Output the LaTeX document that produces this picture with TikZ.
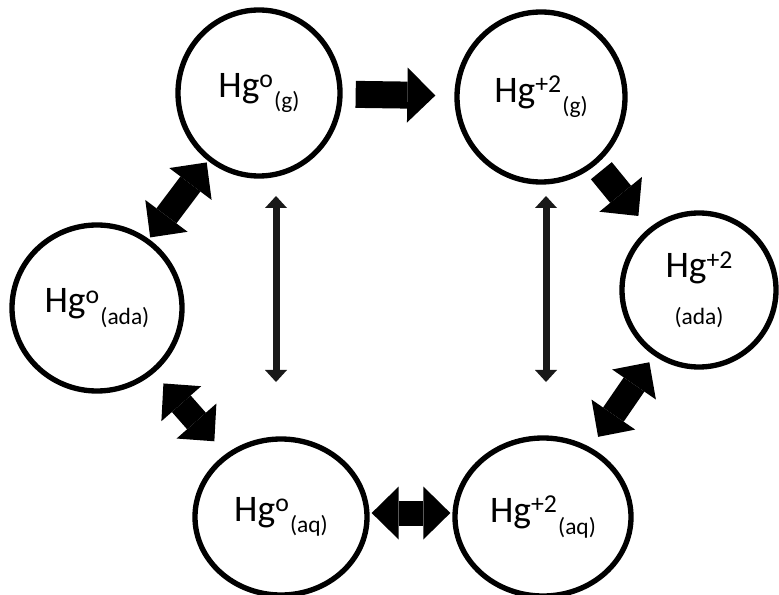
\documentclass[tikz,border=0pt]{standalone}
\usepackage{fontspec}
\setmainfont{Carlito}
\usetikzlibrary{arrows.meta,shapes.geometric}

\newcommand{\hgsup}[1]{\raisebox{8pt}{\fontsize{22}{22}\selectfont #1}}
\newcommand{\hgsub}[1]{\hspace{1pt}\raisebox{-10pt}{\fontsize{20}{20}\selectfont #1}}

\begin{document}
\begin{tikzpicture}[x=0.03cm, y=-0.03cm,
  species/.style={ellipse, draw, line width=0.16cm, inner sep=0pt, font=\fontsize{32}{36}\selectfont},
  bigarrow/.style={line width=0.81cm, -{Triangle[length={0.84cm 0 0}, width={1.65cm 0 0}, line width=0pt]}},
  bigdouble/.style={line width=0.75cm, {Triangle[length={0.81cm 0 0}, width={1.59cm 0 0}, line width=0pt]}-{Triangle[length={0.81cm 0 0}, width={1.59cm 0 0}, line width=0pt]}},
  thinarrow/.style={line width=0.21cm, draw=black!90, {Triangle[length={0.36cm 0 0}, width={0.66cm 0 0}, line width=0pt]}-{Triangle[length={0.36cm 0 0}, width={0.66cm 0 0}, line width=0pt]}}]
\useasboundingbox (0,0) rectangle (779,595);
% Gas phase
\node[species, minimum width=4.86cm, minimum height=4.98cm] (g0) at (259,93) {Hg\hgsup{o}\hgsub{(g)}};
\node[species, minimum width=5.04cm, minimum height=5.1cm] (g2) at (541,97) {Hg\hgsup{+2}\hgsub{(g)}};
% Adsorbed
\node[species, minimum width=5.1cm, minimum height=4.98cm] (ada0) at (97,308) {Hg\hgsup{o}\hgsub{(ada)}};
\node[species, minimum width=4.62cm, minimum height=4.62cm, align=center] (ada2) at (699,290) {Hg\hgsup{+2}\\[4pt]{\fontsize{20}{20}\selectfont (ada)}};
% Aqueous
\node[species, minimum width=5.16cm, minimum height=4.68cm] (aq0) at (281,517) {Hg\hgsup{o}\hgsub{(aq)}};
\node[species, minimum width=5.28cm, minimum height=4.74cm] (aq2) at (543,517) {Hg\hgsup{+2}\hgsub{(aq)}};
% Ends of the thin arrows
\coordinate (lefttop) at (276,196);
\coordinate (leftbot) at (276,382);
\coordinate (righttop) at (546,196);
\coordinate (rightbot) at (546,382);
% Block arrows
\draw[bigarrow, shorten <=0.39cm, shorten >=0.57cm] (g0) -- (g2);
\draw[bigarrow, shorten <=0.24cm, shorten >=0.48cm] (g2) -- (ada2);
\draw[bigdouble, shorten <=0.24cm, shorten >=0.39cm] (ada2) -- (aq2);
\draw[bigdouble, shorten <=0.06cm, shorten >=0.06cm] ([yshift=0.12cm]aq0.east) -- ([yshift=0.12cm]aq2.west);
\draw[bigdouble, shorten <=0.42cm, shorten >=0.51cm] (ada0) -- (aq0);
\draw[bigdouble, shorten <=0.06cm, shorten >=0.06cm] (g0) -- (ada0);
% Thin arrows
\draw[thinarrow] (lefttop) -- (leftbot);
\draw[thinarrow] (righttop) -- (rightbot);
\end{tikzpicture}
\end{document}
